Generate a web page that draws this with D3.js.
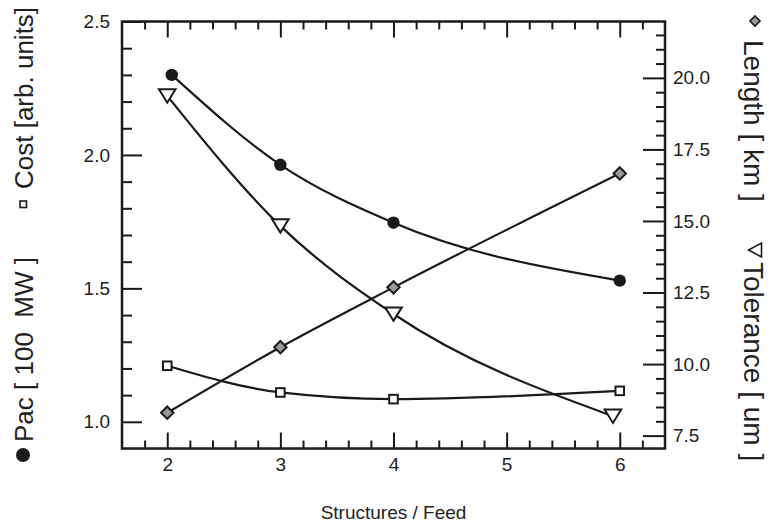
<!DOCTYPE html>
<html><head><meta charset="utf-8">
<script src="https://cdn.jsdelivr.net/npm/d3@7"></script>
<style>
body{margin:0;background:#fff;}
text{font-family:"Liberation Sans",Arial,Helvetica,sans-serif;fill:#222;}
</style>
</head><body>
<svg id="chart" width="768" height="529"></svg>
<script>
// ---- data ----
const feeds = [2, 3, 4, 6];
const pacFeeds = [2.04, 3, 4, 6];
const pac = [2.30, 1.963, 1.746, 1.529];          // Pac [100 MW] (left axis)
const cost = [1.21, 1.11, 1.085, 1.116];           // Cost [arb. units] (left axis)
const lengthKm = [8.30, 10.59, 12.68, 16.66];      // Length [km] (right axis)
const tolFeeds = [2, 3, 4, 5.94];
const tolerance = [19.37, 14.83, 11.75, 8.18];     // Tolerance [um] (right axis)
const xTickValues = [2, 3, 4, 5, 6];
const yLeftTickValues = [1.0, 1.5, 2.0, 2.5];
const yRightTickValues = [7.5, 10.0, 12.5, 15.0, 17.5, 20.0];

const svg = d3.select("#chart");
const L = 122, R = 665, T = 21.5, B = 448.5;
const x = d3.scaleLinear().domain([1.6, 6.4]).range([L, R]);
const yL = d3.scaleLinear().domain([0.9, 2.5]).range([B, T]);
const yR = d3.scaleLinear().domain([7.05, 21.97]).range([B, T]);

const xMinor = d3.range(9, 32).filter(i => i % 5 !== 0).map(i => i / 5);
const yLMinor = d3.range(10, 25).filter(i => i % 5 !== 0).map(i => i / 10);
const yRMinor = d3.range(15, 44).filter(i => i % 5 !== 0).map(i => i / 2);

const tickFs = 19;
function styleAxis(g) {
  g.select(".domain").remove();
  g.selectAll(".tick line").attr("stroke", "#1a1a1a").attr("stroke-width", 2);
  g.selectAll(".tick text").attr("font-size", tickFs).style("font-family", '"Liberation Sans",Arial,sans-serif').attr("fill", "#222");
}

// bottom
svg.append("g").attr("transform", `translate(0,${B})`)
  .call(d3.axisBottom(x).tickValues(xTickValues).tickFormat(d3.format("d")).tickSizeInner(-16).tickSizeOuter(0).tickPadding(9))
  .call(styleAxis);
svg.append("g").attr("transform", `translate(0,${B})`)
  .call(d3.axisBottom(x).tickValues(xMinor).tickFormat("").tickSizeInner(-8).tickSizeOuter(0))
  .call(styleAxis);
// top
svg.append("g").attr("transform", `translate(0,${T})`)
  .call(d3.axisTop(x).tickValues(xTickValues).tickFormat("").tickSizeInner(-16).tickSizeOuter(0))
  .call(styleAxis);
svg.append("g").attr("transform", `translate(0,${T})`)
  .call(d3.axisTop(x).tickValues(xMinor).tickFormat("").tickSizeInner(-8).tickSizeOuter(0))
  .call(styleAxis);
// left
svg.append("g").attr("transform", `translate(${L},0)`)
  .call(d3.axisLeft(yL).tickValues(yLeftTickValues).tickFormat(d3.format(".1f")).tickSizeInner(-20).tickSizeOuter(0).tickPadding(12))
  .call(styleAxis);
svg.append("g").attr("transform", `translate(${L},0)`)
  .call(d3.axisLeft(yL).tickValues(yLMinor).tickFormat("").tickSizeInner(-10).tickSizeOuter(0))
  .call(styleAxis);
// right
svg.append("g").attr("transform", `translate(${R},0)`)
  .call(d3.axisRight(yR).tickValues(yRightTickValues).tickFormat(d3.format(".1f")).tickSizeInner(-22).tickSizeOuter(0).tickPadding(8))
  .call(styleAxis);
svg.append("g").attr("transform", `translate(${R},0)`)
  .call(d3.axisRight(yR).tickValues(yRMinor).tickFormat("").tickSizeInner(-9).tickSizeOuter(0))
  .call(styleAxis);

// frame
svg.append("rect").attr("x", L).attr("y", T).attr("width", R - L).attr("height", B - T)
  .attr("fill", "none").attr("stroke", "#1a1a1a").attr("stroke-width", 2.5);

// series
const pacPts = pacFeeds.map((f, i) => ({x: f, y: pac[i]}));
const costPts = feeds.map((f, i) => ({x: f, y: cost[i]}));
const lenPts = feeds.map((f, i) => ({x: f, y: lengthKm[i]}));
const tolPts = tolFeeds.map((f, i) => ({x: f, y: tolerance[i]}));

const lineL = d3.line().x(d => x(d.x)).y(d => yL(d.y)).curve(d3.curveMonotoneX);
const lineR = d3.line().x(d => x(d.x)).y(d => yR(d.y)).curve(d3.curveMonotoneX);

const lines = svg.append("g").attr("fill", "none").attr("stroke", "#1a1a1a").attr("stroke-width", 2.2);
lines.append("path").attr("d", lineL(pacPts));
lines.append("path").attr("d", lineL(costPts));
lines.append("path").attr("d", lineR(lenPts));
lines.append("path").attr("d", lineR(tolPts));

// markers
svg.append("g").selectAll("circle").data(pacPts).join("circle")
  .attr("cx", d => x(d.x)).attr("cy", d => yL(d.y)).attr("r", 6.2).attr("fill", "#1a1a1a");
svg.append("g").selectAll("rect").data(costPts).join("rect")
  .attr("x", d => x(d.x) - 4.3).attr("y", d => yL(d.y) - 4.3).attr("width", 8.6).attr("height", 8.6)
  .attr("fill", "#fff").attr("stroke", "#1a1a1a").attr("stroke-width", 2);
svg.append("g").selectAll("path").data(lenPts).join("path")
  .attr("transform", d => `translate(${x(d.x)},${yR(d.y)})`)
  .attr("d", "M0,-6.2L6.2,0L0,6.2L-6.2,0Z")
  .attr("fill", "#9a9a9a").attr("stroke", "#1a1a1a").attr("stroke-width", 2);
svg.append("g").selectAll("path").data(tolPts).join("path")
  .attr("transform", d => `translate(${x(d.x)},${yR(d.y)})`)
  .attr("d", "M-8.3,-6.6L8.3,-6.6L0,6.8Z")
  .attr("fill", "#fff").attr("stroke", "#1a1a1a").attr("stroke-width", 2);

// axis titles
svg.append("text").attr("x", R / 2 + L / 2).attr("y", 519).attr("text-anchor", "middle")
  .attr("font-size", 19).text("Structures / Feed");

const lfs = 26;
svg.append("text").attr("transform", "translate(33,442) rotate(-90)").attr("font-size", lfs)
  .style("white-space", "pre").text("Pac [ 100  MW ]");
svg.append("text").attr("transform", "translate(33,189) rotate(-90)").attr("font-size", lfs)
  .style("white-space", "pre").text("Cost [arb. units]");
svg.append("circle").attr("cx", 23).attr("cy", 455).attr("r", 7).attr("fill", "#1a1a1a");
svg.append("rect").attr("x", 20).attr("y", 201).attr("width", 6.5).attr("height", 6.5)
  .attr("fill", "#fff").attr("stroke", "#1a1a1a").attr("stroke-width", 1.6);

const rfs = 28;
svg.append("text").attr("transform", "translate(744,40) rotate(90)").attr("font-size", rfs)
  .style("white-space", "pre").text("Length [ km ]");
svg.append("text").attr("transform", "translate(744,262) rotate(90)").attr("font-size", rfs)
  .style("white-space", "pre").text("Tolerance [ um ]");
svg.append("path").attr("transform", "translate(755,21)").attr("d", "M0,-5L5,0L0,5L-5,0Z")
  .attr("fill", "#9a9a9a").attr("stroke", "#1a1a1a").attr("stroke-width", 1.6);
svg.append("path").attr("transform", "translate(755,250)").attr("d", "M6.5,-7L6.5,7L-6.5,0Z")
  .attr("fill", "#fff").attr("stroke", "#1a1a1a").attr("stroke-width", 1.6);
</script>
</body></html>
